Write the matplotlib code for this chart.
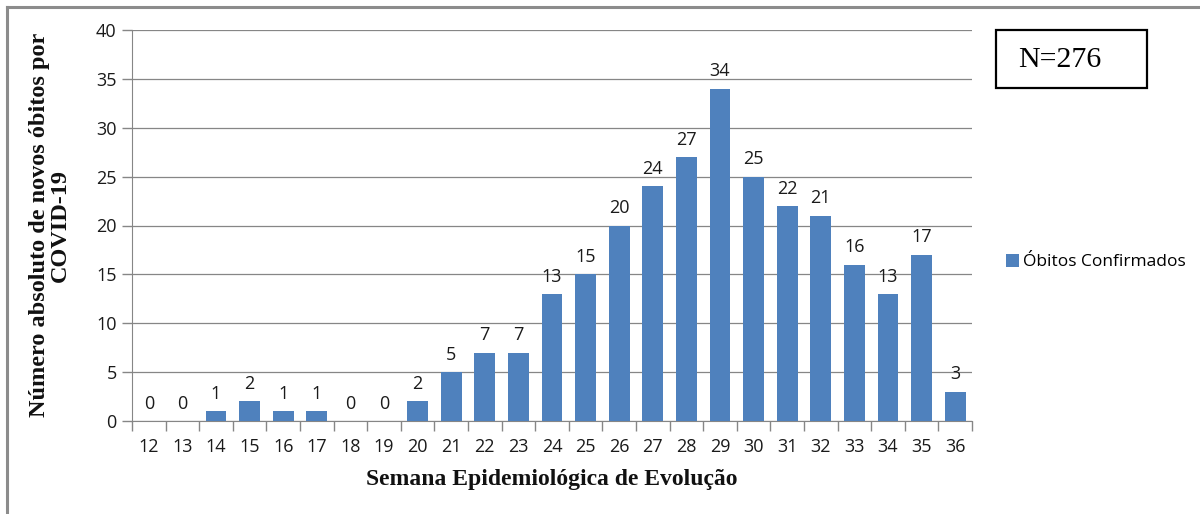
import matplotlib
matplotlib.use("Agg")
import matplotlib.pyplot as plt
from matplotlib.patches import Rectangle

weeks = ["12", "13", "14", "15", "16", "17", "18", "19", "20", "21", "22", "23", "24",
         "25", "26", "27", "28", "29", "30", "31", "32", "33", "34", "35", "36"]
deaths = [0, 0, 1, 2, 1, 1, 0, 0, 2, 5, 7, 7, 13, 15, 20, 24, 27, 34, 25, 22, 21, 16, 13, 17, 3]
yticks = [0, 5, 10, 15, 20, 25, 30, 35, 40]
series_name = "Óbitos Confirmados"
n_text = "N=276"

W, H = 1200, 514
fig = plt.figure(figsize=(W / 100, H / 100), dpi=100)

# outer frame (top and left visible)
fig.add_artist(plt.Line2D([7 / W, 1], [1 - 7 / H, 1 - 7 / H], color="#8c8c8c", lw=2.2))
fig.add_artist(plt.Line2D([7 / W, 7 / W], [0, 1 - 7 / H], color="#8c8c8c", lw=2.2))

x0, x1 = 132, 972
y_top, y_bot = 30, 421
ax = fig.add_axes([x0 / W, 1 - y_bot / H, (x1 - x0) / W, (y_bot - y_top) / H])

bar_color = "#4F81BD"
txt_color = "#1a1a1a"
fs = 13
xs = list(range(len(weeks)))
bars = ax.bar(xs, deaths, width=0.62, color=bar_color, zorder=3, label=series_name)
for x, v in zip(xs, deaths):
    ax.annotate(str(v), (x, v), xytext=(0, 6), textcoords="offset points",
                ha="center", va="bottom", fontsize=fs, family="Open Sans", color=txt_color)

ax.set_xlim(-0.5, len(weeks) - 0.5)
ax.set_ylim(0, 40)
ax.set_yticks(yticks)
ax.set_yticklabels([str(t) for t in yticks], fontsize=fs, family="Open Sans", color=txt_color)
ax.set_xticks(xs)
ax.set_xticklabels(weeks, fontsize=fs, family="Open Sans", color=txt_color)
ax.set_xticks([x - 0.5 for x in xs] + [len(weeks) - 0.5], minor=True)
ax.tick_params(axis="x", which="major", length=0, pad=12)
ax.tick_params(axis="x", which="minor", length=7, color="#868686", width=1)
ax.tick_params(axis="y", length=7, color="#868686", width=1, pad=4)
ax.grid(axis="y", color="#868686", lw=0.9, zorder=0)
for s in ["top", "right"]:
    ax.spines[s].set_visible(False)
ax.spines["left"].set_color("#868686")
ax.spines["bottom"].set_color("#868686")

fig.text(50 / W, 1 - 225 / H, "Número absoluto de novos óbitos por\nCOVID-19",
         rotation=90, ha="center", va="center", fontsize=17.5, fontweight="bold",
         family="Liberation Serif", linespacing=1.0, color="#111111")
fig.text(552 / W, 1 - 480 / H, "Semana Epidemiológica de Evolução",
         ha="center", va="center", fontsize=17, fontweight="bold",
         family="Liberation Serif", color="#111111")

# legend
fig.legend(handles=[bars], labels=[series_name], loc="center left",
           bbox_to_anchor=(990 / W, 1 - 262 / H), frameon=False,
           prop={"family": "Open Sans", "size": 12.5}, handlelength=0.75, handleheight=0.75,
           handletextpad=0.25)

# N box
fig.add_artist(Rectangle((996 / W, 1 - 88 / H), 151 / W, 58 / H, fill=False,
                         edgecolor="black", lw=1.6, transform=fig.transFigure))
fig.text(1018 / W, 1 - 60 / H, n_text, ha="left", va="center", fontsize=21.5,
         family="Liberation Serif")

fig.savefig("out.png", dpi=100)
